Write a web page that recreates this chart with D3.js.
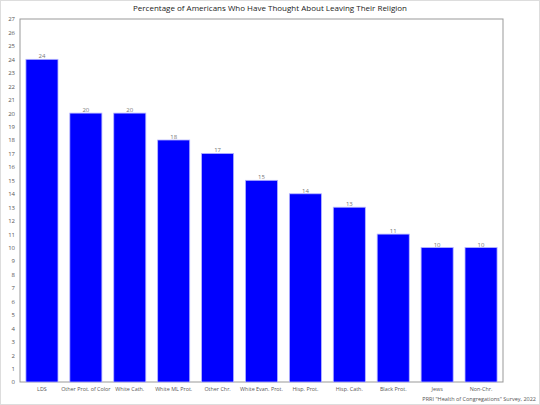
<!DOCTYPE html>
<html>
<head>
<meta charset="utf-8">
<script src="https://cdn.jsdelivr.net/npm/d3@7"></script>
<style>
  body { margin: 0; background: #fff; }
  text { font-family: "Open Sans", sans-serif; }
</style>
</head>
<body>
<script>
const groups = ["LDS", "Other Prot. of Color", "White Cath.", "White ML Prot.", "Other Chr.",
  "White Evan. Prot.", "Hisp. Prot.", "Hisp. Cath.", "Black Prot.", "Jews", "Non-Chr."];
const pct = [24, 20, 20, 18, 17, 15, 14, 13, 11, 10, 10];
const yTicks = d3.range(0, 28);

const w = 540, h = 405;
const plotLeft = 20, plotRight = 503, plotTop = 19, plotBottom = 382;

const svg = d3.select("body").append("svg")
  .attr("width", w)
  .attr("height", h);

// outer frame
svg.append("rect")
  .attr("x", 0.5).attr("y", 0.5)
  .attr("width", w - 1).attr("height", h - 1)
  .attr("fill", "none")
  .attr("stroke", "#ddd");

const x = d3.scaleBand()
  .domain(groups)
  .range([plotLeft, plotRight])
  .paddingInner(0.27)
  .paddingOuter(0.135);

const y = d3.scaleLinear()
  .domain([0, 27])
  .range([plotBottom, plotTop]);

svg.append("text")
  .attr("x", w / 2)
  .attr("y", 11)
  .attr("text-anchor", "middle")
  .attr("font-size", 8)
  .attr("fill", "#222")
  .text("Percentage of Americans Who Have Thought About Leaving Their Religion");

// plot frame
svg.append("rect")
  .attr("x", plotLeft).attr("y", plotTop)
  .attr("width", plotRight - plotLeft).attr("height", plotBottom - plotTop)
  .attr("fill", "none")
  .attr("stroke", "#999");

const yAxis = svg.append("g")
  .attr("transform", `translate(${plotLeft},0)`)
  .call(d3.axisLeft(y).tickValues(yTicks).tickSize(0).tickPadding(5));
yAxis.select(".domain").remove();
yAxis.selectAll("text")
  .attr("font-size", 6)
  .attr("fill", "#555")
  .style("font-family", "'Open Sans', sans-serif");

svg.selectAll("rect.bar")
  .data(pct)
  .enter()
  .append("rect")
  .attr("class", "bar")
  .attr("x", (d, i) => x(groups[i]))
  .attr("y", d => y(d))
  .attr("width", x.bandwidth())
  .attr("height", d => y(0) - y(d))
  .attr("fill", "#0000ff")
  .attr("stroke", "#b4b4ff")
  .attr("stroke-width", 0.8);

svg.selectAll("text.val")
  .data(pct)
  .enter()
  .append("text")
  .attr("class", "val")
  .attr("x", (d, i) => x(groups[i]) + x.bandwidth() / 2)
  .attr("y", d => y(d) - 1)
  .attr("text-anchor", "middle")
  .attr("font-size", 6)
  .attr("fill", "#777")
  .text(d => d);

const xAxis = svg.append("g")
  .attr("transform", `translate(0,${plotBottom})`)
  .call(d3.axisBottom(x).tickSize(0).tickPadding(5));
xAxis.select(".domain").remove();
xAxis.selectAll("text")
  .attr("font-size", 5.4)
  .attr("fill", "#555")
  .style("font-family", "'Open Sans', sans-serif");

svg.append("text")
  .attr("x", 536)
  .attr("y", 401)
  .attr("text-anchor", "end")
  .attr("font-size", 5.5)
  .attr("fill", "#555")
  .text("PRRI \"Health of Congregations\" Survey, 2022");
</script>
</body>
</html>
